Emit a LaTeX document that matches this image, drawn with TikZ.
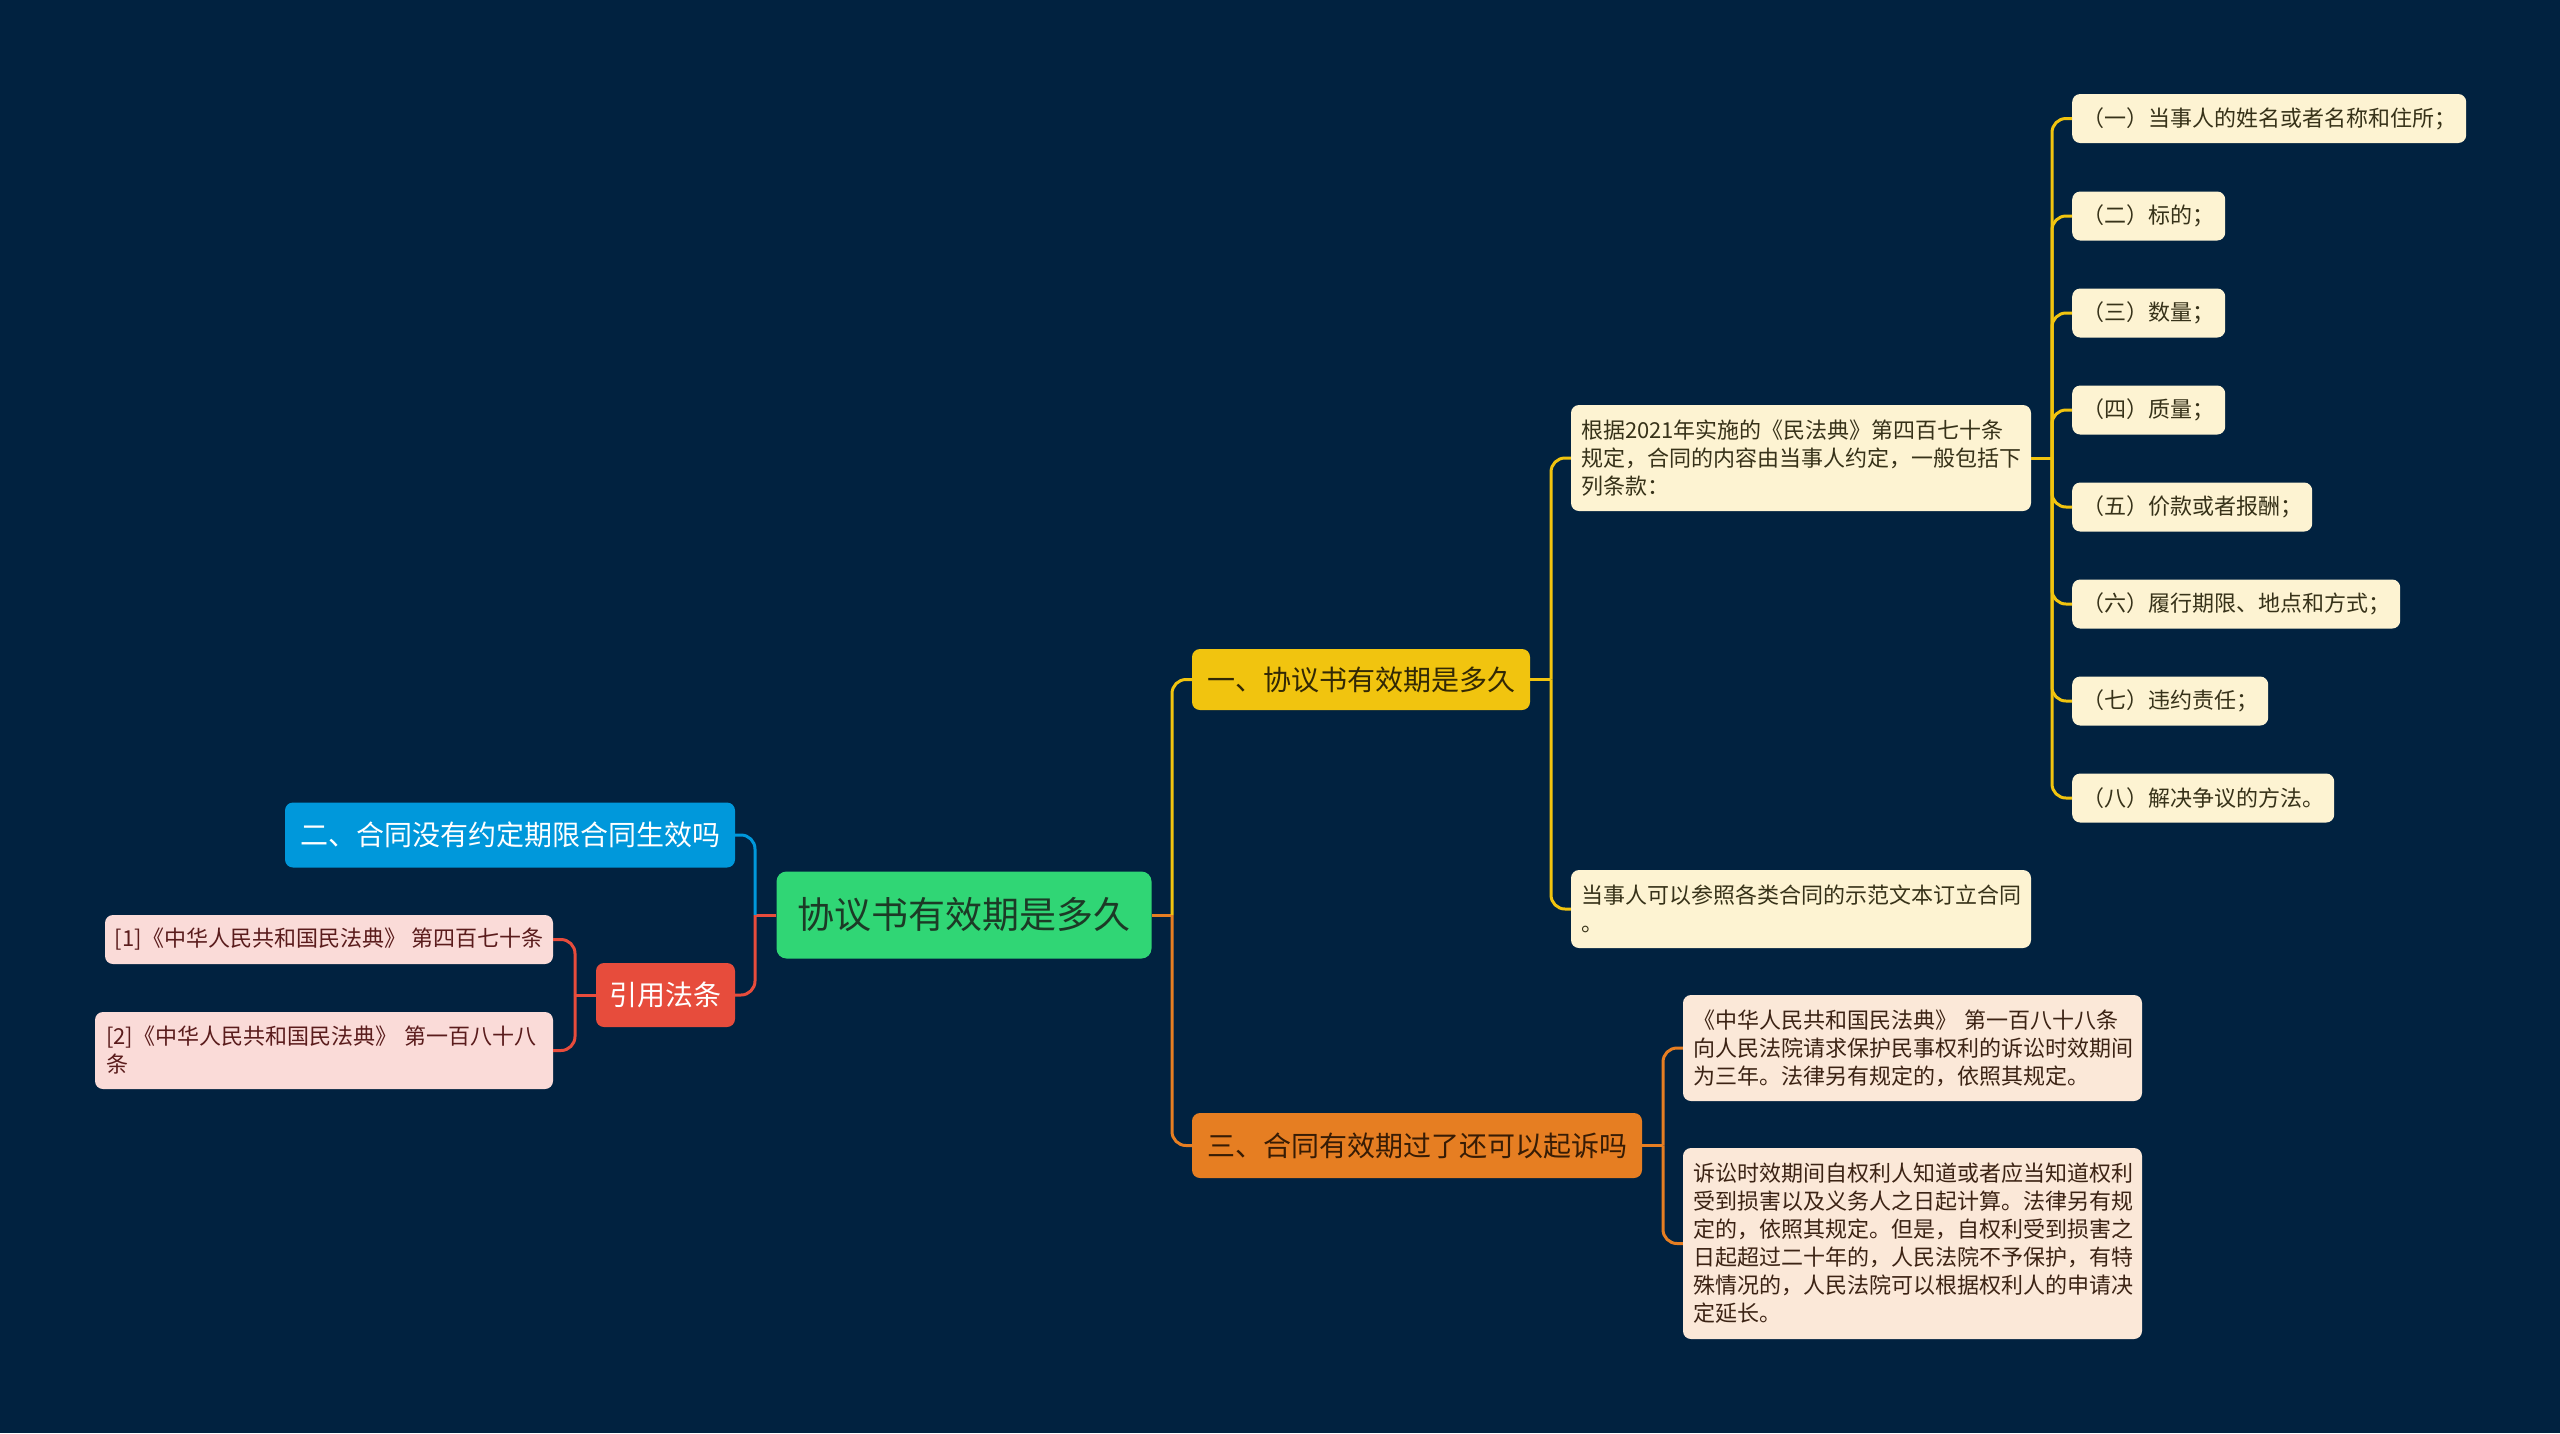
\documentclass[tikz,border=0pt]{standalone}
\usepackage{fontspec}
\setmainfont{Noto Sans CJK SC}
\newcommand\fsz[2]{\fontsize{#1}{#2}\selectfont}
\definecolor{bgc}{RGB}{1,34,64}
\definecolor{cgreen}{RGB}{48,214,117}
\definecolor{cyellow}{RGB}{241,196,15}
\definecolor{corange}{RGB}{230,126,34}
\definecolor{cblue}{RGB}{0,152,219}
\definecolor{cred}{RGB}{231,76,60}
\definecolor{lyellow}{RGB}{253,243,210}
\definecolor{lpeach}{RGB}{251,232,216}
\definecolor{lpink}{RGB}{250,219,216}
\definecolor{tgreen}{RGB}{28,58,38}
\definecolor{tyellow}{RGB}{50,40,5}
\definecolor{torange}{RGB}{55,28,5}
\definecolor{tly}{RGB}{55,50,25}
\definecolor{tlp}{RGB}{60,35,20}
\definecolor{tpink}{RGB}{90,28,28}
\tikzset{
  box/.style={rounded corners=8pt, inner sep=0pt, align=center},
  lbox/.style={rounded corners=8pt, inner ysep=0pt, align=left},
  conn/.style={line width=3pt, rounded corners=14pt},
  grand/.style={box, fill=lyellow, text=tly, font=\fsz{22}{28}, minimum height=49pt, anchor=west},
}
\begin{document}
\begin{tikzpicture}[x=1pt,y=-1pt]
\useasboundingbox (0,0) rectangle (2560,1433);
\fill[bgc] (0,0) rectangle (2560,1433);

% main nodes
\node[box, fill=cgreen, text=tgreen, font=\fsz{37}{44}, minimum width=375pt, minimum height=87pt, rounded corners=10pt] (root) at (964,915) {协议书有效期是多久};
\node[box, fill=cyellow, text=tyellow, font=\fsz{28}{34}, minimum width=338pt, minimum height=61pt] (y1) at (1361,679.5) {一、协议书有效期是多久};
\node[box, fill=corange, text=torange, font=\fsz{28}{34}, minimum width=450pt, minimum height=65pt] (o3) at (1417,1145.5) {三、合同有效期过了还可以起诉吗};
\node[box, fill=cblue, text=white, font=\fsz{28}{34}, minimum width=450pt, minimum height=65pt] (b2) at (510,835) {二、合同没有约定期限合同生效吗};
\node[box, fill=cred, text=white, font=\fsz{28}{34}, minimum width=139pt, minimum height=64pt] (rf) at (665.5,995) {引用法条};

% left leaves
\node[box, fill=lpink, text=tpink, font=\fsz{22}{28}, minimum width=448pt, minimum height=49pt] (p1) at (329,939.5) {[1]《中华人民共和国民法典》 第四百七十条};
\node[lbox, fill=lpink, text=tpink, font=\fsz{22}{28}, text width=436pt, inner xsep=11pt, minimum height=77pt] (p2) at (324,1050.5) {[2]《中华人民共和国民法典》 第一百八十八\\条};

% yellow children
\node[lbox, fill=lyellow, text=tly, font=\fsz{22}{28}, text width=440pt, inner xsep=10pt, minimum height=106pt] (yc1) at (1801,458) {根据2021年实施的《民法典》第四百七十条\\规定，合同的内容由当事人约定，一般包括下\\列条款：};
\node[lbox, fill=lyellow, text=tly, font=\fsz{22}{28}, text width=440pt, inner xsep=10pt, minimum height=78pt] (yc2) at (1801,909) {当事人可以参照各类合同的示范文本订立合同\\。};

% orange children
\node[lbox, fill=lpeach, text=tlp, font=\fsz{22}{28}, text width=439pt, inner xsep=10pt, minimum height=106pt] (oc1) at (1912.5,1048) {《中华人民共和国民法典》 第一百八十八条\\向人民法院请求保护民事权利的诉讼时效期间\\为三年。法律另有规定的，依照其规定。};
\node[lbox, fill=lpeach, text=tlp, font=\fsz{22}{28}, text width=439pt, inner xsep=10pt, minimum height=191pt] (oc2) at (1912.5,1243.5) {诉讼时效期间自权利人知道或者应当知道权利\\受到损害以及义务人之日起计算。法律另有规\\定的，依照其规定。但是，自权利受到损害之\\日起超过二十年的，人民法院不予保护，有特\\殊情况的，人民法院可以根据权利人的申请决\\定延长。};

% grandchildren
\node[grand, minimum width=394pt] (g1) at (2072,118.5) {（一）当事人的姓名或者名称和住所；};
\node[grand, minimum width=153pt] (g2) at (2072,216) {（二）标的；};
\node[grand, minimum width=153pt] (g3) at (2072,313) {（三）数量；};
\node[grand, minimum width=153pt] (g4) at (2072,410) {（四）质量；};
\node[grand, minimum width=240pt] (g5) at (2072,507) {（五）价款或者报酬；};
\node[grand, minimum width=328pt] (g6) at (2072,604) {（六）履行期限、地点和方式；};
\node[grand, minimum width=196pt] (g7) at (2072,701) {（七）违约责任；};
\node[grand, minimum width=262pt] (g8) at (2072,798) {（八）解决争议的方法。};

% junctions
\coordinate (jR) at (1172,915);
\coordinate (jL) at (755,915);
\coordinate (jr) at (575,995);
\coordinate (jy) at (1551,679.5);
\coordinate (jg) at (2052,458);
\coordinate (jo) at (1663,1145.5);

% connectors
\draw[conn, corange] (root.east) -- (jR);
\draw[conn, cyellow] (jR) |- (y1.west);
\draw[conn, corange] (jR) |- (o3.west);
\draw[conn, cred] (root.west) -- (jL);
\draw[conn, cblue] (jL) |- (b2.east);
\draw[conn, cred] (jL) |- (rf.east);
\draw[conn, cred] (rf.west) -- (jr);
\draw[conn, cred] (jr) |- (p1.east);
\draw[conn, cred] (jr) |- (p2.east);
\draw[conn, cyellow] (y1.east) -- (jy);
\draw[conn, cyellow] (jy) |- (yc1.west);
\draw[conn, cyellow] (jy) |- (yc2.west);
\draw[conn, cyellow] (yc1.east) -- (jg);
\foreach \g in {g1,g2,g3,g4,g5,g6,g7,g8}{
  \draw[conn, cyellow] (jg) |- (\g.west);
}
\draw[conn, corange] (o3.east) -- (jo);
\draw[conn, corange] (jo) |- (oc1.west);
\draw[conn, corange] (jo) |- (oc2.west);
\end{tikzpicture}
\end{document}
